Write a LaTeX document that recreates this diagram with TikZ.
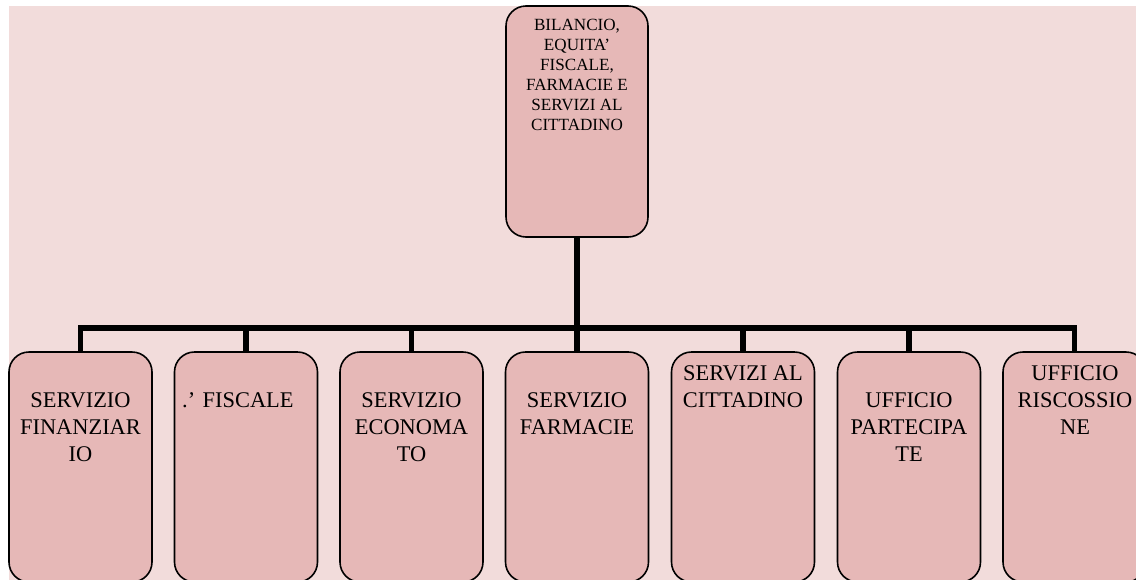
\documentclass[tikz,border=0pt]{standalone}
\usepackage{fontspec}
\setmainfont{Liberation Serif}
\usetikzlibrary{calc}
\definecolor{bgpink}{HTML}{F2DCDB}
\definecolor{boxpink}{HTML}{E6B8B7}
\begin{document}
\begin{tikzpicture}[x=1pt,y=-1pt,
  orgbox/.style={draw=black, line width=1.6pt, fill=boxpink, rounded corners=20pt, inner sep=0pt, outer sep=0pt},
  topbox/.style={orgbox, minimum width=142pt, minimum height=231pt},
  childbox/.style={orgbox, minimum width=143pt, minimum height=230pt},
  conn/.style={draw=black, line width=5.8pt},
  lbl/.style={anchor=north, inner sep=0pt, align=center, text=black, font=\fontsize{22.4}{26.7}\selectfont},
  toplbl/.style={anchor=north, inner sep=0pt, align=center, text=black, font=\fontsize{17.1}{20}\selectfont}]
\useasboundingbox (0,0) rectangle (1136,579);
\clip (0,0) rectangle (1136,579);
\fill[bgpink] (9,6) rectangle (1140,585);
% boxes
\node[topbox] (top) at (577,121.5) {};
\node[childbox] (b1) at (80.5,467) {};
\node[childbox] (b2) at (246,467) {};
\node[childbox] (b3) at (411.5,467) {};
\node[childbox] (b4) at (577,467) {};
\node[childbox] (b5) at (743,467) {};
\node[childbox] (b6) at (909,467) {};
\node[childbox] (b7) at (1074.5,467) {};
\coordinate (bar) at (577,328);
% connectors
\draw[conn] (top.south) -- (bar);
\draw[conn] (b1.north) |- (b7.north |- bar) -- (b7.north);
\foreach \i in {2,...,6} {\draw[conn] (b\i.north) -- (b\i.north |- bar);}
% texts
\node[toplbl] (ttop) at (577,19.3) {BILANCIO,\\EQUITA’\\FISCALE,\\FARMACIE E\\SERVIZI AL\\CITTADINO};
\node[lbl] (t1) at (80.5,392.7) {SERVIZIO\\FINANZIAR\\IO};
\node[lbl, anchor=north west] (t2) at (182,392.4) {.’ FISCALE};
\node[lbl] (t3) at (411.5,392.7) {SERVIZIO\\ECONOMA\\TO};
\node[lbl] (t4) at (577,392.7) {SERVIZIO\\FARMACIE};
\node[lbl] (t5) at (743,365.9) {SERVIZI AL\\CITTADINO};
\node[lbl] (t6) at (909,392.7) {UFFICIO\\PARTECIPA\\TE};
\node[lbl] (t7) at (1075,365.9) {UFFICIO\\RISCOSSIO\\NE};
\end{tikzpicture}
\end{document}
